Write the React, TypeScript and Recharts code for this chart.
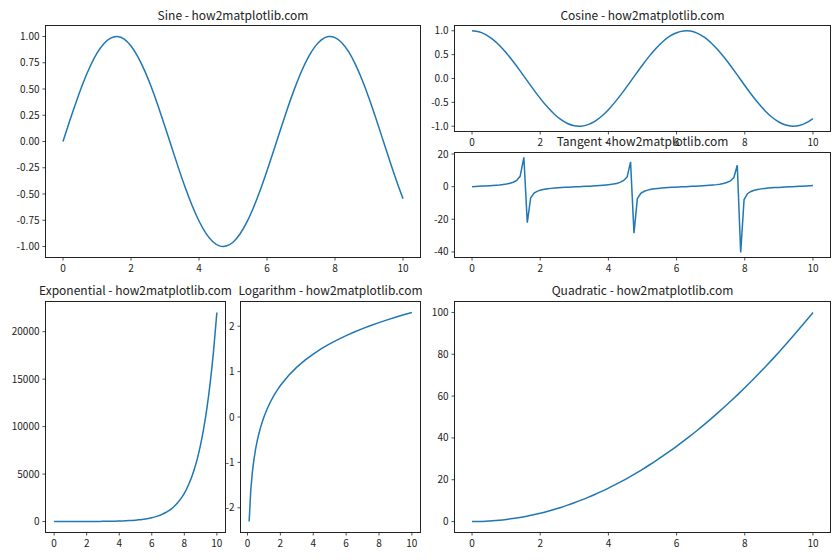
import { LineChart, Line, XAxis, YAxis } from "recharts"

// shared grid for the smooth curves
const xs = [
  0, 0.2, 0.4, 0.6, 0.8, 1, 1.2, 1.4, 1.6, 1.8, 2, 2.2, 2.4, 2.6, 2.8, 3, 3.2, 3.4, 3.6, 3.8,
  4, 4.2, 4.4, 4.6, 4.8, 5, 5.2, 5.4, 5.6, 5.8, 6, 6.2, 6.4, 6.6, 6.8, 7, 7.2, 7.4, 7.6, 7.8,
  8, 8.2, 8.4, 8.6, 8.8, 9, 9.2, 9.4, 9.6, 9.8, 10,
]

const sineY = [
  0, 0.199, 0.389, 0.565, 0.717, 0.841, 0.932, 0.985, 1.0, 0.974, 0.909, 0.808, 0.675, 0.516,
  0.335, 0.141, -0.058, -0.256, -0.443, -0.612, -0.757, -0.872, -0.952, -0.994, -0.996, -0.959,
  -0.883, -0.773, -0.631, -0.465, -0.279, -0.083, 0.117, 0.312, 0.494, 0.657, 0.794, 0.899,
  0.968, 0.999, 0.989, 0.941, 0.855, 0.734, 0.585, 0.412, 0.223, 0.025, -0.174, -0.366, -0.544,
]

const cosineY = [
  1, 0.98, 0.921, 0.825, 0.697, 0.54, 0.362, 0.17, -0.029, -0.227, -0.416, -0.589, -0.737,
  -0.857, -0.942, -0.99, -0.998, -0.967, -0.897, -0.791, -0.654, -0.49, -0.307, -0.112, 0.087,
  0.284, 0.469, 0.635, 0.776, 0.886, 0.96, 0.997, 0.993, 0.95, 0.87, 0.754, 0.608, 0.439, 0.251,
  0.054, -0.146, -0.34, -0.519, -0.679, -0.811, -0.911, -0.975, -1.0, -0.985, -0.931, -0.839,
]

const expY = [
  1, 1.22, 1.49, 1.82, 2.23, 2.72, 3.32, 4.06, 4.95, 6.05, 7.39, 9.03, 11.0, 13.5, 16.4, 20.1,
  24.5, 30.0, 36.6, 44.7, 54.6, 66.7, 81.5, 99.5, 121.5, 148.4, 181.3, 221.4, 270.4, 330.3,
  403.4, 492.7, 601.8, 735.1, 897.8, 1096.6, 1339.4, 1636.0, 1998.2, 2440.6, 2981.0, 3641.0,
  4447.1, 5431.7, 6634.2, 8103.1, 9897.1, 12088.4, 14764.8, 18033.7, 22026.5,
]

const quadY = [
  0, 0.04, 0.16, 0.36, 0.64, 1, 1.44, 1.96, 2.56, 3.24, 4, 4.84, 5.76, 6.76, 7.84, 9, 10.24,
  11.56, 12.96, 14.44, 16, 17.64, 19.36, 21.16, 23.04, 25, 27.04, 29.16, 31.36, 33.64, 36, 38.44,
  40.96, 43.56, 46.24, 49, 51.84, 54.76, 57.76, 60.84, 64, 67.24, 70.56, 73.96, 77.44, 81, 84.64,
  88.36, 92.16, 96.04, 100,
]

// tangent keeps the coarse sampling so the spikes look like the original
const tanX = [
  0, 0.1, 0.2, 0.3, 0.4, 0.51, 0.61, 0.71, 0.81, 0.91, 1.01, 1.11, 1.21, 1.31, 1.41, 1.52, 1.62,
  1.72, 1.82, 1.92, 2.02, 2.12, 2.22, 2.32, 2.42, 2.53, 2.63, 2.73, 2.83, 2.93, 3.03, 3.13, 3.23,
  3.33, 3.43, 3.54, 3.64, 3.74, 3.84, 3.94, 4.04, 4.14, 4.24, 4.34, 4.44, 4.55, 4.65, 4.75, 4.85,
  4.95, 5.05, 5.15, 5.25, 5.35, 5.45, 5.56, 5.66, 5.76, 5.86, 5.96, 6.06, 6.16, 6.26, 6.36, 6.46,
  6.57, 6.67, 6.77, 6.87, 6.97, 7.07, 7.17, 7.27, 7.37, 7.47, 7.58, 7.68, 7.78, 7.88, 7.98, 8.08,
  8.18, 8.28, 8.38, 8.48, 8.59, 8.69, 8.79, 8.89, 8.99, 9.09, 9.19, 9.29, 9.39, 9.49, 9.6, 9.7,
  9.8, 9.9, 10,
]

const tanY = [
  0, 0.101, 0.205, 0.313, 0.427, 0.553, 0.694, 0.855, 1.043, 1.283, 1.593, 2.018, 2.668, 3.794,
  6.33, 17.95, -22.03, -6.78, -3.959, -2.752, -2.072, -1.632, -1.31, -1.065, -0.871, -0.71,
  -0.567, -0.44, -0.324, -0.216, -0.112, -0.01, 0.091, 0.194, 0.301, 0.416, 0.539, 0.678, 0.837,
  1.023, 1.255, 1.557, 1.969, 2.587, 3.643, 5.935, 15.15, -28.5, -7.3, -4.139, -2.843, -2.127,
  -1.668, -1.337, -1.087, -0.889, -0.725, -0.58, -0.451, -0.335, -0.226, -0.122, -0.021, 0.081,
  0.183, 0.29, 0.403, 0.526, 0.663, 0.821, 1.003, 1.229, 1.521, 1.918, 2.509, 3.501, 5.584, 13.1,
  -40.3, -7.905, -4.333, -2.94, -2.186, -1.708, -1.37, -1.112, -0.908, -0.74, -0.593, -0.464,
  -0.347, -0.237, -0.133, -0.031, 0.07, 0.173, 0.279, 0.392, 0.514, 0.648,
]

const logX = [
  0.1, 0.2, 0.3, 0.4, 0.5, 0.6, 0.7, 0.8, 0.9, 1, 1.2, 1.4, 1.6, 1.8, 2, 2.5, 3, 3.5, 4, 4.5, 5,
  5.5, 6, 6.5, 7, 7.5, 8, 8.5, 9, 9.5, 10,
]

const logY = [
  -2.303, -1.609, -1.204, -0.916, -0.693, -0.511, -0.357, -0.223, -0.105, 0, 0.182, 0.336, 0.47,
  0.588, 0.693, 0.916, 1.099, 1.253, 1.386, 1.504, 1.609, 1.705, 1.792, 1.872, 1.946, 2.015,
  2.079, 2.14, 2.197, 2.251, 2.303,
]

const xTicks = [0, 2, 4, 6, 8, 10]
const sineTicks = [-1, -0.75, -0.5, -0.25, 0, 0.25, 0.5, 0.75, 1]
const cosineTicks = [-1, -0.5, 0, 0.5, 1]
const tanTicks = [-40, -20, 0, 20]
const expTicks = [0, 5000, 10000, 15000, 20000]
const logTicks = [-2, -1, 0, 1, 2]
const quadTicks = [0, 20, 40, 60, 80, 100]

const toRows = (x: number[], y: number[]) => x.map((v, i) => ({ x: v, y: y[i] }))

const FONT = '"Noto Sans CJK SC", "Noto Sans", sans-serif'
const INK = "#222"
const BLUE = "#1f77b4"

type Box = { l: number; t: number; w: number; h: number }

function Panel(props: {
  box: Box
  title: string
  baseline: number
  rows: { x: number; y: number }[]
  xDomain: [number, number]
  yDomain: [number, number]
  yTicks: number[]
  fmt?: (v: number) => string
  curve?: "linear" | "monotone" | "natural"
}) {
  const { box, title, baseline, rows, xDomain, yDomain, yTicks, fmt, curve } = props
  const yw = 44
  const xh = 24
  const mt = 10
  const mr = 10
  const cx = box.l + box.w / 2
  return (
    <>
      <div style={{ position: "absolute", left: box.l - yw, top: box.t - mt }}>
        <LineChart
          width={yw + box.w + mr}
          height={mt + box.h + xh}
          data={rows}
          margin={{ top: mt, right: mr, bottom: 0, left: 0 }}
        >
          <XAxis
            type="number"
            dataKey="x"
            domain={xDomain}
            ticks={xTicks}
            height={xh}
            axisLine={false}
            tickSize={3.5}
            tickMargin={4}
            tickLine={{ stroke: INK, strokeWidth: 0.8 }}
            tick={{ fill: INK, fontSize: 10 }}
          />
          <YAxis
            type="number"
            domain={yDomain}
            ticks={yTicks}
            width={yw}
            axisLine={false}
            tickSize={3.5}
            tickMargin={3}
            tickLine={{ stroke: INK, strokeWidth: 0.8 }}
            tick={{ fill: INK, fontSize: 10 }}
            tickFormatter={fmt ?? ((v: number) => String(v))}
          />
          <Line
            type={curve ?? "monotone"}
            dataKey="y"
            stroke={BLUE}
            strokeWidth={1.5}
            dot={false}
            activeDot={false}
            isAnimationActive={false}
          />
        </LineChart>
      </div>
      <div
        style={{
          position: "absolute",
          left: box.l - 1,
          top: box.t - 1,
          width: box.w + 2,
          height: box.h + 2,
          boxSizing: "border-box",
          border: `1px solid ${INK}`,
          pointerEvents: "none",
        }}
      />
      <div
        style={{
          position: "absolute",
          left: cx - 200,
          width: 400,
          top: baseline - 13,
          height: 16,
          lineHeight: "16px",
          fontSize: 12,
          textAlign: "center",
          whiteSpace: "nowrap",
          color: INK,
        }}
      >
        {title}
      </div>
    </>
  )
}

export default function App() {
  return (
    <div
      style={{
        position: "absolute",
        left: 0,
        top: 0,
        width: 840,
        height: 560,
        background: "#fff",
        fontFamily: FONT,
        overflow: "hidden",
      }}
    >
      <Panel
        box={{ l: 46, t: 26, w: 374, h: 231 }}
        title="Sine - how2matplotlib.com"
        baseline={19.5}
        rows={toRows(xs, sineY)}
        xDomain={[-0.5, 10.5]}
        yDomain={[-1.1, 1.1]}
        yTicks={sineTicks}
        fmt={(v) => v.toFixed(2)}
        curve="natural"
      />
      <Panel
        box={{ l: 455, t: 26, w: 375, h: 105 }}
        title="Cosine - how2matplotlib.com"
        baseline={19.5}
        rows={toRows(xs, cosineY)}
        xDomain={[-0.5, 10.5]}
        yDomain={[-1.1, 1.1]}
        yTicks={cosineTicks}
        fmt={(v) => v.toFixed(1)}
        curve="natural"
      />
      <Panel
        box={{ l: 455, t: 153, w: 375, h: 104 }}
        title="Tangent - how2matplotlib.com"
        baseline={146}
        rows={toRows(tanX, tanY)}
        xDomain={[-0.5, 10.5]}
        yDomain={[-43.1, 20.6]}
        yTicks={tanTicks}
        curve="linear"
      />
      <Panel
        box={{ l: 46, t: 302, w: 179, h: 230 }}
        title="Exponential - how2matplotlib.com"
        baseline={295}
        rows={toRows(xs, expY)}
        xDomain={[-0.5, 10.5]}
        yDomain={[-1100, 23127]}
        yTicks={expTicks}
      />
      <Panel
        box={{ l: 241, t: 302, w: 179, h: 230 }}
        title="Logarithm - how2matplotlib.com"
        baseline={295}
        rows={toRows(logX, logY)}
        xDomain={[-0.395, 10.495]}
        yDomain={[-2.533, 2.533]}
        yTicks={logTicks}
        curve="linear"
      />
      <Panel
        box={{ l: 455, t: 302, w: 375, h: 230 }}
        title="Quadratic - how2matplotlib.com"
        baseline={295}
        rows={toRows(xs, quadY)}
        xDomain={[-0.5, 10.5]}
        yDomain={[-5, 105]}
        yTicks={quadTicks}
      />
    </div>
  )
}
